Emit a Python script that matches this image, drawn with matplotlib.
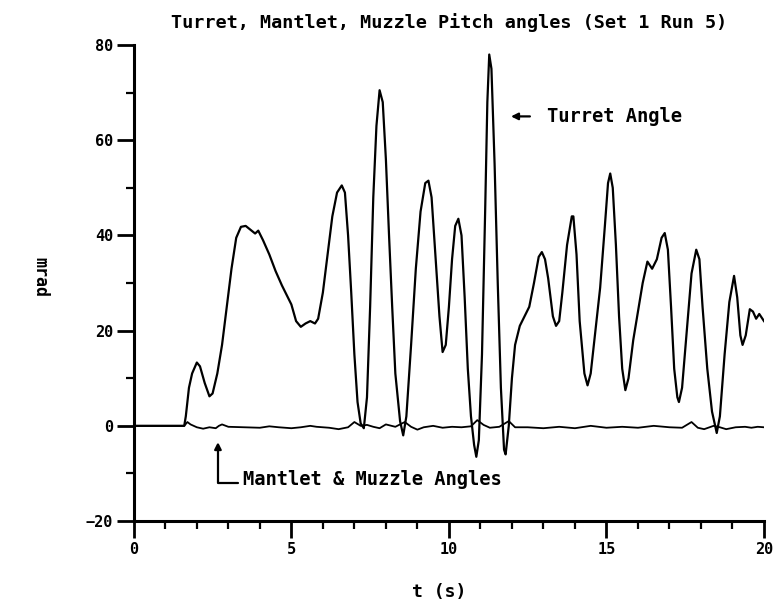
#!/usr/bin/env python3
"""Turret / mantlet / muzzle pitch angles, set 1 run 5."""

import matplotlib
matplotlib.use("Agg")
import matplotlib.pyplot as plt
from matplotlib.ticker import MultipleLocator

# turret pitch angle (mrad)
turret_t = [0, 1.6, 1.65, 1.75, 1.85, 2.0, 2.1, 2.25, 2.4, 2.5, 2.65, 2.8, 2.95,
            3.1, 3.25, 3.4, 3.55, 3.7, 3.85, 3.95, 4.1, 4.3, 4.5, 4.7, 4.85,
            5.0, 5.15, 5.3, 5.45, 5.6, 5.75, 5.85, 6.0, 6.15, 6.3, 6.45, 6.6,
            6.7, 6.8, 6.9, 7.0, 7.1, 7.2, 7.3, 7.4, 7.5, 7.6, 7.7, 7.8, 7.9,
            8.0, 8.1, 8.2, 8.3, 8.45, 8.55, 8.65, 8.8, 8.95, 9.1, 9.25, 9.35,
            9.45, 9.55, 9.7, 9.8, 9.9, 10.0, 10.1, 10.2, 10.3, 10.4, 10.5, 10.6,
            10.7, 10.8, 10.87, 10.95, 11.05, 11.15, 11.22, 11.28, 11.35, 11.45,
            11.55, 11.65, 11.75, 11.8, 11.9, 12.0, 12.1, 12.25, 12.4, 12.55,
            12.7, 12.85, 12.95, 13.05, 13.15, 13.3, 13.4, 13.5, 13.6, 13.75,
            13.9, 13.95, 14.05, 14.15, 14.3, 14.4, 14.5, 14.65, 14.8, 14.95,
            15.05, 15.12, 15.2, 15.3, 15.4, 15.5, 15.6, 15.7, 15.85, 16.0, 16.15,
            16.3, 16.45, 16.6, 16.75, 16.85, 16.95, 17.05, 17.15, 17.25, 17.3,
            17.4, 17.55, 17.7, 17.85, 17.95, 18.05, 18.2, 18.35, 18.5, 18.6,
            18.75, 18.9, 19.05, 19.15, 19.25, 19.32, 19.42, 19.55, 19.65, 19.75,
            19.85, 20.0]
turret_v = [0, 0, 2, 8, 11, 13.3, 12.5, 9, 6.2, 6.8, 11, 17, 25,
            33, 39.5, 41.8, 42, 41.2, 40.4, 41, 39, 36, 32.5, 29.5, 27.5,
            25.5, 22, 20.8, 21.5, 22, 21.5, 22.5, 28, 36, 44, 49, 50.5,
            49, 40, 28, 15, 5, 0.5, -0.5, 6, 25, 48, 63, 70.5, 68,
            56, 40, 25, 11, 1, -2, 2, 17, 33, 45, 51, 51.5,
            48, 38, 23, 15.5, 17, 25, 35, 42, 43.5, 40, 27, 12,
            2, -4, -6.5, -3, 15, 45, 68, 78, 75, 55,
            30, 8, -5, -6, 0, 10, 17, 21, 23, 25,
            30, 35.5, 36.5, 35, 31, 23, 21, 22, 28, 38,
            44, 44, 36, 22, 11, 8.5, 11, 20, 29, 42,
            51, 53, 50, 38, 23, 12, 7.5, 10, 18, 24, 30,
            34.5, 33, 35, 39.5, 40.5, 37, 25, 12, 6, 5,
            8, 20, 32, 37, 35, 25, 12, 3, -1.5, 2,
            15, 26, 31.5, 27, 19, 17, 19, 24.5, 24, 22.5,
            23.5, 22]

# mantlet & muzzle angles (mrad), small wiggle around zero
mantlet_t = [0, 1.6, 1.7, 1.8, 2.0, 2.2, 2.4, 2.6, 2.7, 2.8, 3.0, 3.5, 4.0,
             4.3, 4.6, 5.0, 5.3, 5.6, 5.8, 6.2, 6.5, 6.8, 7.0, 7.2, 7.4, 7.6,
             7.8, 8.0, 8.3, 8.6, 8.8, 9.0, 9.2, 9.5, 9.8, 10.1, 10.4, 10.7,
             10.9, 11.1, 11.3, 11.6, 11.9, 12.1, 12.5, 13.0, 13.5, 14.0, 14.5,
             15.0, 15.5, 16.0, 16.5, 17.0, 17.4, 17.7, 17.9, 18.1, 18.4, 18.6,
             18.8, 19.1, 19.4, 19.6, 19.8, 20.0]
mantlet_v = [0, 0, 0.8, 0.3, -0.3, -0.6, -0.3, -0.5, 0, 0.3, -0.2, -0.3, -0.4,
             -0.1, -0.3, -0.5, -0.3, 0, -0.2, -0.4, -0.7, -0.3, 0.8, 0, 0.2, -0.2,
             -0.5, 0.3, -0.2, 0.8, -0.2, -0.8, -0.3, 0, -0.4, -0.2, -0.3, -0.1,
             1.2, 0.2, -0.4, -0.2, 1.0, -0.3, -0.3, -0.5, -0.2, -0.5, 0,
             -0.4, -0.2, -0.4, 0, -0.3, -0.4, 0.8, -0.4, -0.7, 0, -0.3,
             -0.7, -0.3, -0.2, -0.4, -0.2, -0.3]

FONT = dict(family="DejaVu Sans Mono", weight="bold")

fig = plt.figure(figsize=(7.78, 6.08), dpi=100)
ax = fig.add_axes([0.172, 0.143, 0.81, 0.783])

ax.plot(turret_t, turret_v, color="black", lw=1.6)
ax.plot(mantlet_t, mantlet_v, color="black", lw=1.3)

ax.set_xlim(0, 20)
ax.set_ylim(-20, 80)
ax.xaxis.set_major_locator(MultipleLocator(5))
ax.xaxis.set_minor_locator(MultipleLocator(1))
ax.yaxis.set_major_locator(MultipleLocator(20))
ax.yaxis.set_minor_locator(MultipleLocator(10))
ax.tick_params(which="major", length=12, width=2, direction="out",
               labelsize=11, pad=3)
ax.tick_params(which="minor", length=6, width=1.6, direction="out")
for lab in ax.get_xticklabels() + ax.get_yticklabels():
    lab.set(**FONT)

for s in ("top", "right"):
    ax.spines[s].set_visible(False)
for s in ("left", "bottom"):
    ax.spines[s].set_linewidth(2.2)

ax.set_title("Turret, Mantlet, Muzzle Pitch angles (Set 1 Run 5)",
             fontsize=13.3, pad=12, **FONT)
fig.text(0.565, 0.027, "t (s)", ha="center", va="center", fontsize=13, **FONT)
fig.text(0.052, 0.545, "mrad", ha="center", va="center", rotation=-90,
         fontsize=12, **FONT)

ax.annotate("Turret Angle", xy=(11.97, 65), xytext=(13.1, 65),
            va="center", ha="left", fontsize=13.5, **FONT,
            arrowprops=dict(arrowstyle="-|>", color="black", lw=1.6,
                            mutation_scale=10, shrinkA=10, shrinkB=0))
ax.annotate("", xy=(2.67, -3.4), xytext=(3.3, -12),
            arrowprops=dict(arrowstyle="-|>", color="black", lw=1.6,
                            mutation_scale=10, shrinkA=0, shrinkB=0,
                            connectionstyle="angle,angleA=180,angleB=90,rad=0"))
ax.text(3.46, -11.3, "Mantlet & Muzzle Angles", va="center", ha="left",
        fontsize=13.5, **FONT)

fig.savefig("out.png", dpi=100)
